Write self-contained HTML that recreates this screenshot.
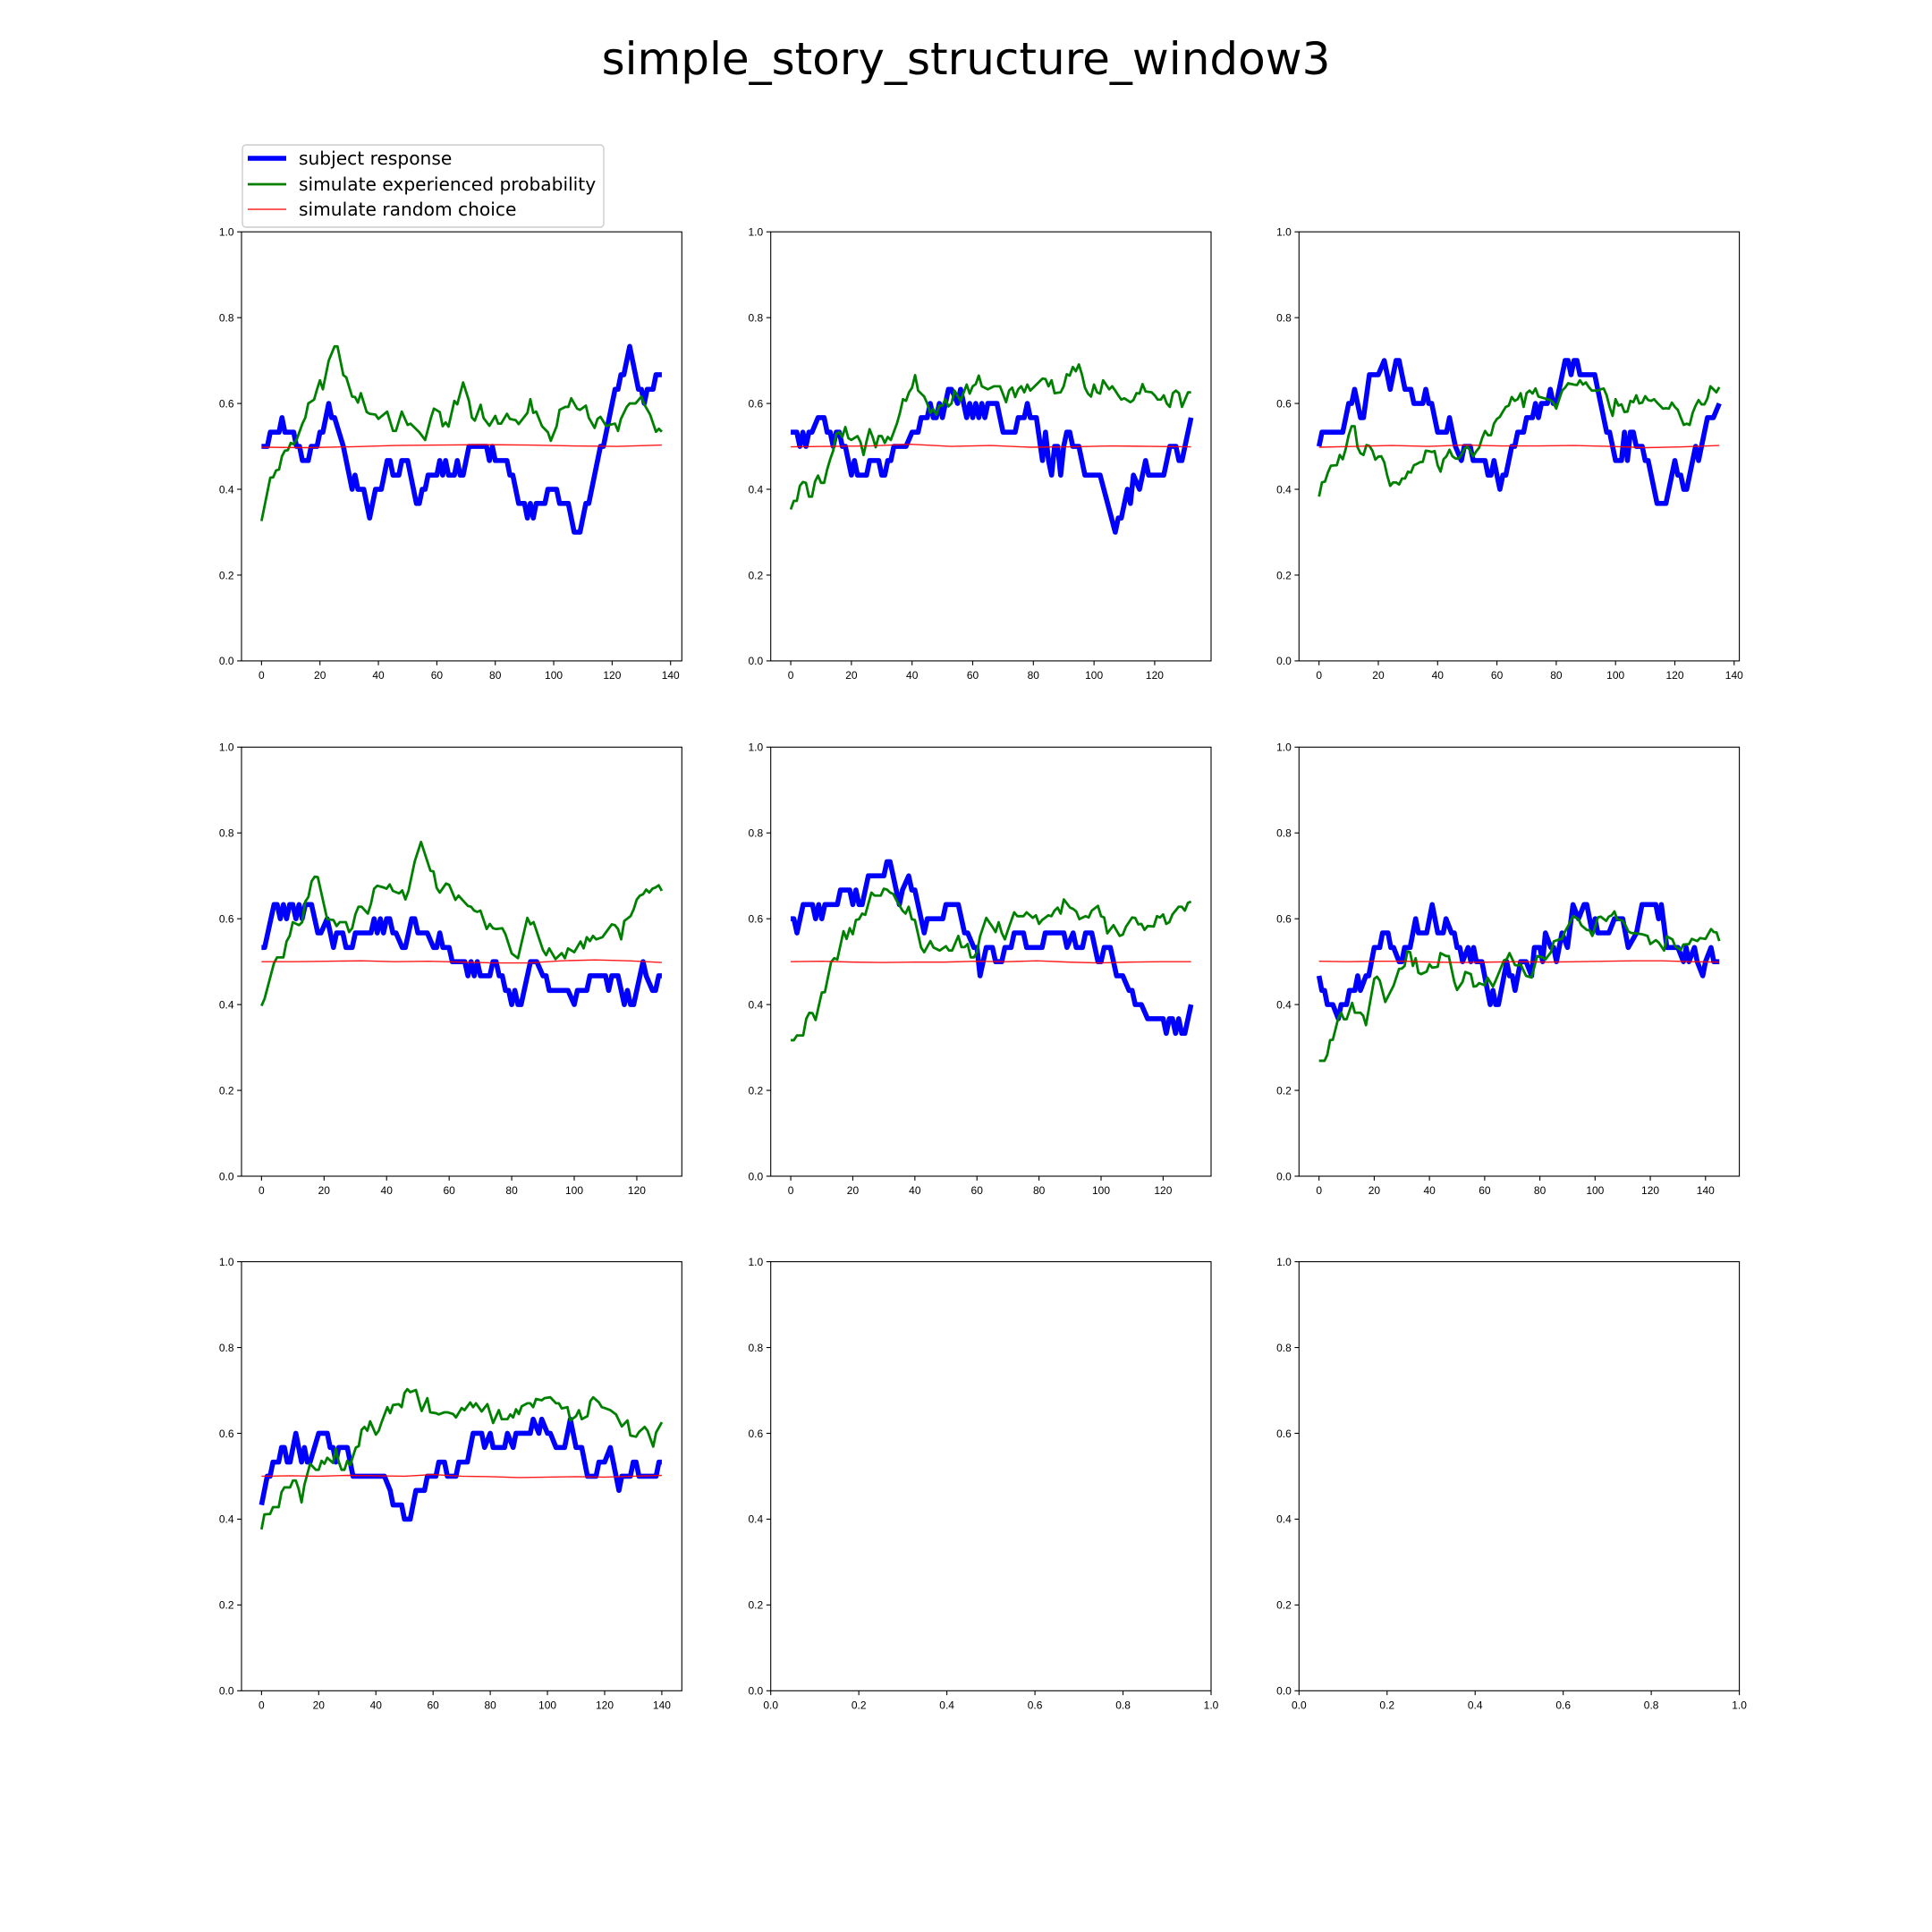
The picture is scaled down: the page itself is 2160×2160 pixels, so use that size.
<!DOCTYPE html>
<html><head><meta charset="utf-8"><title>simple_story_structure_window3</title>
<style>
html,body{margin:0;padding:0;background:#fff;}
svg{display:block;font-family:"DejaVu Sans","Liberation Sans",sans-serif;}
</style></head>
<body>
<svg id="fig" width="2160" height="2160" viewBox="0 0 2160 2160" xmlns="http://www.w3.org/2000/svg">
<rect x="0" y="0" width="2160" height="2160" fill="#fff"/>
<text x="1080" y="83" font-size="50" text-anchor="middle" fill="#000">simple_story_structure_window3</text>
<g>
<rect x="271" y="162" width="404" height="92" rx="4" fill="#fff" stroke="#cccccc" stroke-width="1.4"/>
<line x1="277" y1="177" x2="320" y2="177" stroke="#0000ff" stroke-width="5.6"/>
<text x="334" y="184" font-size="20.2" fill="#000">subject response</text>
<line x1="277" y1="206" x2="320" y2="206" stroke="#008000" stroke-width="2.8"/>
<text x="334" y="213" font-size="20.2" fill="#000">simulate experienced probability</text>
<line x1="277" y1="234" x2="320" y2="234" stroke="#ff0000" stroke-width="1.4" stroke-opacity="0.85"/>
<text x="334" y="241" font-size="20.2" fill="#000">simulate random choice</text>
</g>
</svg>
<script>
// ---- data (trial index arrays and value arrays per panel) ----
const p1BlueX=[0,2,3,6,7,8,11,12,13,14,16,17,19,20,21,23,24,25,28,31,32,33,35,37,39,41,43,44,45,47,48,50,53,54,55,56,57,60,61,62,63,64,66,67,68,69,71,77,78,79,80,84,85,86,88,90,91,92,93,94,97,98,101,102,105,107,109,111,112,116,117,121,122,123,124,126,129,130,131,132,134,135,137];
const p1BlueY=[.5,.5,.533,.533,.567,.533,.533,.5,.5,.467,.467,.5,.5,.533,.533,.6,.567,.567,.5,.4,.433,.4,.4,.333,.4,.4,.467,.467,.433,.433,.467,.467,.367,.367,.4,.4,.433,.433,.467,.433,.467,.433,.433,.467,.433,.433,.5,.5,.467,.5,.467,.467,.433,.433,.367,.367,.333,.367,.333,.367,.367,.4,.4,.367,.367,.3,.3,.367,.367,.5,.5,.633,.633,.667,.667,.733,.633,.633,.6,.633,.633,.667,.667];
const p1GreenX=[0,3,4,5,6,7,8,9,10,11,12,14,15,16,18,19,20,21,23,25,26,28,29,31,32,33,34,36,37,39,40,43,45,46,48,50,51,54,56,58,59,61,62,63,64,66,67,69,71,72,73,75,76,78,80,81,82,84,85,87,88,91,92,93,94,96,98,99,101,102,104,105,106,108,109,111,112,114,115,116,118,119,121,122,123,125,126,128,130,131,133,135,136,137];
const p1GreenY=[.326,.427,.428,.444,.446,.477,.49,.491,.508,.505,.515,.553,.567,.6,.609,.633,.654,.633,.7,.733,.733,.666,.661,.616,.615,.602,.624,.58,.576,.574,.564,.581,.536,.536,.581,.55,.553,.533,.515,.567,.588,.58,.547,.556,.546,.606,.598,.649,.606,.567,.56,.597,.566,.548,.571,.553,.553,.576,.564,.561,.552,.578,.61,.578,.581,.547,.533,.513,.547,.585,.592,.592,.612,.588,.585,.595,.567,.543,.564,.569,.547,.55,.553,.536,.564,.592,.6,.6,.616,.598,.574,.534,.541,.534];
const p1RedY=[.498,.497,.499,.502,.503,.504,.503,.501,.500,.503];

const p2BlueX=[0,2,3,4,5,6,7,9,11,12,13,14,15,16,17,18,20,21,22,25,26,29,30,31,32,33,34,38,40,42,43,45,46,47,48,49,50,51,52,53,55,56,57,58,59,60,61,62,63,64,65,68,70,74,75,77,78,79,81,83,84,85,86,87,88,89,90,91,92,93,95,97,102,107,108,109,111,112,113,115,117,118,123,125,127,128,129,132];
const p2BlueY=[.533,.533,.5,.533,.5,.533,.533,.567,.567,.533,.533,.5,.533,.533,.5,.5,.433,.467,.433,.433,.467,.467,.433,.433,.467,.467,.5,.5,.533,.533,.567,.567,.6,.567,.567,.6,.567,.6,.633,.633,.6,.633,.6,.567,.6,.567,.6,.567,.6,.567,.6,.6,.533,.533,.567,.567,.6,.567,.567,.467,.533,.467,.433,.5,.5,.433,.5,.533,.533,.5,.5,.433,.433,.3,.333,.333,.4,.367,.433,.4,.467,.433,.433,.5,.5,.467,.467,.567];
const p2GreenX=[0,1,2,3,4,5,6,7,8,9,10,11,12,13,14,15,16,17,18,19,20,22,23,24,25,26,27,28,29,30,31,32,33,35,36,37,38,39,40,41,42,44,45,46,47,48,49,50,51,52,53,54,56,58,59,60,61,62,63,65,67,69,71,72,73,74,75,76,77,78,79,81,83,84,85,86,87,89,90,91,92,93,94,95,96,97,98,99,100,101,102,103,105,106,107,108,109,110,112,113,114,115,116,117,119,120,121,122,123,124,125,126,127,128,129,131,132];
const p2GreenY=[.353,.373,.373,.408,.417,.415,.383,.383,.418,.432,.415,.415,.446,.47,.49,.529,.533,.522,.545,.519,.515,.524,.51,.48,.512,.54,.522,.498,.524,.524,.508,.522,.515,.553,.578,.61,.606,.626,.637,.666,.63,.616,.6,.578,.587,.574,.595,.595,.61,.593,.6,.63,.606,.644,.623,.64,.645,.665,.64,.633,.64,.64,.603,.63,.637,.615,.633,.64,.626,.644,.63,.644,.658,.657,.64,.654,.624,.626,.64,.668,.665,.685,.675,.691,.668,.637,.623,.616,.644,.626,.623,.654,.633,.64,.63,.619,.609,.612,.603,.608,.624,.623,.645,.628,.626,.619,.609,.609,.619,.6,.592,.624,.63,.624,.592,.626,.626];
const p2RedY=[.499,.500,.501,.505,.500,.502,.498,.499,.501,.500,.499];

const p3BlueX=[0,1,8,10,11,12,14,15,17,20,22,23,24,26,27,29,31,32,35,36,37,38,40,43,44,45,46,48,49,51,52,56,57,58,59,60,61,62,63,65,66,67,69,70,72,73,74,75,77,78,79,80,81,83,84,85,86,87,88,93,94,97,98,100,102,103,104,105,106,107,109,110,111,114,117,120,121,122,123,124,127,128,131,133,135];
const p3BlueY=[.5,.533,.533,.6,.6,.633,.567,.567,.667,.667,.7,.667,.633,.7,.7,.633,.633,.6,.6,.633,.6,.6,.533,.533,.567,.533,.5,.467,.5,.5,.467,.467,.433,.433,.467,.433,.4,.433,.433,.5,.5,.533,.533,.567,.567,.6,.567,.6,.6,.633,.6,.6,.633,.7,.7,.667,.7,.7,.667,.667,.633,.533,.533,.467,.467,.533,.467,.533,.533,.5,.5,.467,.467,.367,.367,.467,.433,.433,.4,.4,.5,.467,.567,.567,.6];
const p3GreenX=[0,1,2,3,4,6,7,8,9,10,11,12,13,14,15,16,17,18,19,20,21,22,23,24,25,26,27,28,29,30,31,32,33,34,35,36,37,38,39,40,41,42,43,44,45,46,47,48,49,50,51,52,53,54,55,56,57,58,59,60,61,62,63,64,65,66,67,68,69,70,71,72,73,74,76,78,79,80,81,82,83,84,86,87,88,89,90,91,92,94,95,96,97,98,99,100,101,102,103,104,105,106,107,108,109,110,111,112,113,114,115,116,117,118,119,120,121,122,123,124,125,126,127,128,129,130,131,132,133,134,135];
const p3GreenY=[.383,.416,.418,.439,.455,.456,.48,.47,.494,.526,.547,.547,.498,.484,.48,.503,.501,.49,.469,.476,.477,.463,.432,.408,.416,.416,.411,.425,.425,.441,.439,.456,.459,.463,.464,.49,.489,.487,.489,.456,.441,.47,.477,.492,.477,.472,.471,.48,.494,.5,.49,.477,.488,.497,.519,.536,.526,.526,.553,.564,.569,.581,.592,.595,.615,.606,.61,.624,.592,.624,.63,.623,.635,.616,.612,.608,.602,.588,.61,.63,.637,.647,.644,.643,.654,.644,.649,.638,.63,.63,.633,.635,.619,.592,.571,.61,.595,.598,.58,.581,.606,.603,.619,.6,.602,.617,.608,.606,.61,.602,.595,.588,.589,.588,.602,.592,.585,.567,.55,.553,.55,.578,.595,.608,.598,.598,.612,.64,.633,.626,.638];
const p3RedY=[.498,.500,.502,.500,.503,.501,.501,.502,.500,.497,.499,.502];

const p4BlueX=[0,1,4,5,6,7,8,9,10,11,12,13,14,16,18,19,21,22,23,24,26,27,29,30,35,36,37,38,39,40,41,42,43,45,46,48,49,50,53,55,56,57,58,60,61,65,66,67,68,69,70,73,74,75,76,77,78,79,80,81,82,83,86,88,90,91,92,98,100,101,104,105,110,111,112,114,116,117,118,119,122,123,125,126,127,128];
const p4BlueY=[.533,.533,.633,.633,.6,.633,.6,.633,.633,.6,.633,.6,.633,.633,.567,.567,.6,.567,.533,.567,.567,.533,.533,.567,.567,.6,.567,.6,.567,.6,.6,.567,.567,.533,.533,.6,.6,.567,.567,.533,.533,.567,.533,.533,.5,.5,.467,.5,.467,.5,.467,.467,.5,.5,.467,.467,.433,.433,.4,.433,.4,.4,.5,.5,.467,.467,.433,.433,.4,.433,.433,.467,.467,.433,.467,.467,.4,.433,.4,.4,.5,.467,.433,.433,.467,.467];
const p4GreenX=[0,1,4,5,7,8,9,10,12,13,14,15,16,17,18,21,23,24,25,27,28,29,30,31,32,34,35,36,37,39,40,41,42,44,45,46,47,49,51,54,55,56,57,59,60,62,63,66,67,68,69,70,72,73,74,75,77,78,80,82,85,86,87,90,91,92,94,96,97,98,100,102,103,104,105,106,107,109,110,112,113,114,115,116,118,119,120,121,122,123,124,125,126,127,128];
const p4GreenY=[.397,.414,.497,.51,.51,.547,.56,.592,.585,.592,.64,.651,.687,.698,.697,.599,.597,.583,.592,.592,.569,.578,.61,.628,.628,.612,.635,.67,.677,.673,.67,.68,.665,.659,.666,.645,.665,.734,.779,.712,.71,.672,.661,.682,.679,.644,.654,.63,.628,.619,.616,.619,.576,.588,.578,.576,.578,.564,.519,.508,.602,.587,.592,.527,.515,.531,.506,.52,.508,.531,.522,.547,.531,.557,.548,.56,.552,.557,.567,.587,.585,.576,.552,.595,.606,.622,.645,.654,.657,.668,.661,.67,.673,.678,.665];
const p4RedY=[.500,.500,.501,.502,.500,.501,.499,.497,.497,.502,.504,.502,.498];

const p5BlueX=[0,1,2,4,7,8,9,10,11,15,16,19,20,21,22,23,25,30,31,32,33,35,36,38,39,40,43,44,49,50,54,56,57,59,60,61,63,65,66,68,69,71,72,75,76,81,82,88,89,91,92,94,95,97,99,100,101,103,104,105,107,109,110,111,113,115,120,121,122,123,124,125,126,127,129];
const p5BlueY=[.6,.6,.567,.633,.633,.6,.633,.6,.633,.633,.667,.667,.633,.667,.633,.633,.7,.7,.733,.733,.7,.633,.667,.7,.667,.667,.567,.6,.6,.633,.633,.567,.567,.533,.533,.467,.533,.533,.5,.5,.533,.533,.567,.567,.533,.533,.567,.567,.533,.567,.533,.533,.567,.567,.5,.5,.533,.533,.5,.467,.467,.433,.433,.4,.4,.367,.367,.333,.367,.367,.333,.367,.333,.333,.4];
const p5GreenX=[0,1,2,4,5,6,7,8,10,11,13,14,15,17,18,19,20,21,22,23,24,26,27,29,30,31,32,33,34,36,37,38,39,40,42,43,45,46,48,50,51,52,54,55,56,57,58,59,60,61,63,65,66,67,68,69,70,72,73,75,76,78,79,80,81,83,84,85,86,87,88,90,91,92,93,95,96,97,99,100,101,102,104,106,107,108,110,111,112,113,114,115,117,118,119,120,121,122,123,125,126,127,128,129];
const p5GreenY=[.317,.317,.328,.328,.367,.381,.38,.364,.428,.429,.499,.508,.505,.571,.553,.578,.564,.597,.599,.612,.609,.661,.654,.654,.67,.668,.661,.658,.644,.619,.612,.628,.599,.597,.533,.522,.548,.533,.526,.536,.526,.526,.56,.534,.534,.541,.51,.51,.522,.559,.602,.581,.569,.592,.567,.552,.574,.615,.606,.606,.615,.602,.608,.588,.597,.608,.606,.619,.626,.612,.645,.626,.623,.617,.599,.606,.603,.619,.63,.606,.603,.566,.585,.56,.563,.581,.603,.602,.587,.588,.574,.583,.582,.606,.603,.61,.588,.592,.61,.628,.628,.619,.637,.64];
const p5RedY=[.500,.501,.499,.498,.499,.499,.501,.500,.502,.499,.497,.499,.500,.500];

const p6BlueX=[0,1,2,3,5,7,8,10,11,13,14,15,17,18,20,22,23,25,26,27,29,30,31,33,35,36,39,41,43,45,46,48,49,50,51,52,54,55,56,57,59,61,62,63,64,65,68,69,70,71,73,75,77,78,80,81,82,84,85,86,88,90,92,94,96,97,99,100,101,105,107,110,112,115,117,122,123,124,126,130,132,133,134,136,137,139,140,142,143,145];
const p6BlueY=[.467,.433,.433,.4,.4,.367,.4,.4,.433,.433,.467,.433,.467,.467,.533,.533,.567,.567,.533,.533,.5,.5,.533,.533,.6,.567,.567,.633,.567,.567,.6,.567,.567,.533,.533,.5,.533,.5,.533,.5,.5,.433,.4,.433,.4,.4,.5,.467,.467,.433,.5,.5,.467,.533,.533,.5,.567,.533,.533,.5,.567,.533,.633,.6,.633,.633,.567,.6,.567,.567,.6,.6,.533,.567,.633,.633,.6,.633,.533,.533,.5,.533,.5,.533,.5,.467,.5,.533,.5,.5];
const p6GreenX=[0,2,3,4,5,7,8,9,10,12,13,15,16,17,20,21,22,24,27,29,30,31,32,33,34,35,36,37,39,40,41,43,44,46,47,49,50,52,53,55,56,57,58,60,61,63,64,67,68,69,71,72,73,75,77,79,81,82,84,85,87,88,89,91,92,94,95,97,98,99,101,102,104,105,106,107,108,110,111,112,113,115,117,119,120,122,123,125,126,128,129,131,132,134,135,137,138,140,142,143,144,145];
const p6GreenY=[.269,.269,.283,.317,.318,.369,.381,.366,.366,.404,.381,.381,.374,.352,.46,.465,.456,.406,.444,.483,.484,.49,.524,.522,.49,.508,.474,.471,.477,.494,.486,.488,.52,.513,.513,.453,.434,.453,.476,.471,.442,.443,.45,.445,.463,.442,.456,.503,.506,.52,.492,.491,.494,.467,.463,.513,.51,.505,.522,.547,.552,.553,.569,.592,.606,.599,.585,.574,.573,.56,.603,.605,.595,.605,.608,.617,.599,.595,.585,.571,.567,.566,.564,.56,.541,.55,.545,.526,.559,.552,.536,.527,.54,.541,.553,.548,.555,.553,.576,.569,.568,.548];
const p6RedY=[.501,.500,.501,.501,.499,.498,.499,.500,.499,.500,.501,.502,.502,.500,.499];

const p7BlueX=[0,2,3,4,6,7,8,9,10,12,14,15,16,17,20,23,24,25,26,27,30,32,43,45,46,49,50,52,54,57,58,61,62,64,65,68,69,72,74,77,78,80,81,85,86,88,89,94,95,97,98,100,101,103,106,108,110,112,114,117,118,120,122,125,126,129,130,131,132,138,139,140];
const p7BlueY=[.433,.5,.5,.533,.533,.567,.567,.533,.533,.6,.533,.567,.533,.533,.6,.6,.567,.567,.533,.567,.567,.5,.5,.467,.433,.433,.4,.4,.467,.467,.5,.5,.533,.533,.5,.5,.533,.533,.6,.6,.567,.6,.567,.567,.6,.567,.6,.6,.633,.6,.633,.6,.6,.567,.567,.633,.567,.567,.5,.5,.533,.533,.567,.467,.5,.5,.533,.533,.5,.5,.533,.533];
const p7GreenX=[0,1,3,4,6,7,8,10,11,12,13,14,15,17,19,20,21,22,23,25,26,27,28,29,30,31,33,34,35,36,37,38,40,41,42,44,45,46,48,49,50,51,52,54,56,58,59,61,62,64,65,67,68,70,71,73,74,75,77,79,81,83,84,86,87,88,89,90,91,93,94,95,96,98,99,101,103,104,105,107,108,110,111,112,114,115,116,118,119,120,122,124,125,126,128,129,131,132,134,135,137,138,140];
const p7GreenY=[.376,.411,.412,.428,.428,.463,.474,.474,.49,.49,.47,.439,.48,.529,.515,.515,.536,.529,.543,.531,.564,.534,.515,.515,.536,.526,.567,.57,.608,.615,.606,.628,.597,.606,.626,.661,.647,.666,.668,.661,.694,.703,.696,.701,.652,.682,.649,.647,.644,.649,.649,.645,.637,.659,.654,.672,.661,.67,.651,.668,.624,.654,.633,.633,.644,.637,.656,.645,.663,.67,.67,.661,.68,.677,.682,.684,.67,.67,.658,.661,.63,.64,.654,.633,.64,.675,.684,.672,.661,.659,.654,.644,.63,.616,.63,.595,.592,.603,.615,.606,.569,.602,.626];
const p7RedY=[.500,.501,.500,.502,.501,.500,.504,.500,.499,.497,.498,.499,.498,.500,.502];

// ---- layout ----
const NS='http://www.w3.org/2000/svg';
const svg=document.getElementById('fig');
const colLeft=[270,861.7,1452.3];
const rowTop=[259.2,835.3,1410.6];
const axW=492.3, axH=479.7;
const panels=[
 {bx:p1BlueX,by:p1BlueY,gx:p1GreenX,gy:p1GreenY,ry:p1RedY},
 {bx:p2BlueX,by:p2BlueY,gx:p2GreenX,gy:p2GreenY,ry:p2RedY},
 {bx:p3BlueX,by:p3BlueY,gx:p3GreenX,gy:p3GreenY,ry:p3RedY},
 {bx:p4BlueX,by:p4BlueY,gx:p4GreenX,gy:p4GreenY,ry:p4RedY},
 {bx:p5BlueX,by:p5BlueY,gx:p5GreenX,gy:p5GreenY,ry:p5RedY},
 {bx:p6BlueX,by:p6BlueY,gx:p6GreenX,gy:p6GreenY,ry:p6RedY},
 {bx:p7BlueX,by:p7BlueY,gx:p7GreenX,gy:p7GreenY,ry:p7RedY},
 null,null];
const yTickLabels=['0.0','0.2','0.4','0.6','0.8','1.0'];
const emptyXTickLabels=['0.0','0.2','0.4','0.6','0.8','1.0'];
const TICK_FONT='"Liberation Sans", sans-serif';

function mk(tag,attrs,parent){const e=document.createElementNS(NS,tag);for(const k in attrs)e.setAttribute(k,attrs[k]);parent.appendChild(e);return e;}

panels.forEach((p,idx)=>{
  const L=colLeft[idx%3], T=rowTop[Math.floor(idx/3)], B=T+axH, R=L+axW;
  const g=mk('g',{},svg);
  
  
  let xmin,xmax;
  if(p){const n=Math.max(p.bx[p.bx.length-1],p.gx[p.gx.length-1]);xmin=-0.05*n;xmax=1.05*n;}else{xmin=0;xmax=1;}
  const sx=v=>L+(v-xmin)/(xmax-xmin)*axW;
  const sy=v=>B-v*axH;
  yTickLabels.forEach(t=>{
    const y=sy(parseFloat(t));
    const tk=mk('line',{x1:L-4.9,x2:L,y1:y,y2:y,stroke:'#000','stroke-width':1.1},g);
    
    
    const tx=mk('text',{x:L-8.5,y:y+4.3,'font-size':12,'font-family':TICK_FONT,'text-anchor':'end',fill:'#000'},g);
    
    
    tx.textContent=t;
  });
  let xt=[];
  if(p){for(let v=0;v<=xmax+1e-9;v+=20)xt.push({v:v,s:String(v)});}
  else{emptyXTickLabels.forEach(s=>xt.push({v:parseFloat(s),s:s}));}
  xt.forEach(o=>{
    const x=sx(o.v);
    const tk=mk('line',{x1:x,x2:x,y1:B,y2:B+4.9,stroke:'#000','stroke-width':1.1},g);
    
    
    const tx=mk('text',{x:x,y:B+20,'font-size':12,'font-family':TICK_FONT,'text-anchor':'middle',fill:'#000'},g);
    
    
    tx.textContent=o.s;
  });
  if(p){
    const cp=mk('clipPath',{id:'clip'+idx},g);
    mk('rect',{x:L,y:T,width:axW,height:axH},cp);
    const line=(xs,ys,col,w,name,op)=>{
      const d=xs.map((x,i)=>(i?'L':'M')+sx(x).toFixed(2)+','+sy(ys[i]).toFixed(2)).join('');
      const e=mk('path',{d:d,fill:'none',stroke:col,'stroke-width':w,'stroke-linejoin':'round','stroke-linecap':'butt','clip-path':'url(#clip'+idx+')','stroke-opacity':op},g);
      
      
    };
    const n=Math.max(p.bx[p.bx.length-1],p.gx[p.gx.length-1]);
    const rx=p.ry.map((v,i)=>i*n/(p.ry.length-1));
    line(p.bx,p.by,'#0000ff',5.6,'subject-response-line',1);
    line(p.gx,p.gy,'#008000',2.8,'experienced-probability-line',1);
    line(rx,p.ry,'#ff0000',1.4,'random-choice-line',0.9);
  }
  const fr=mk('rect',{x:L,y:T,width:axW,height:axH,fill:'none',stroke:'#000','stroke-width':1.1},g);
  
  
});
</script>
</body></html>
